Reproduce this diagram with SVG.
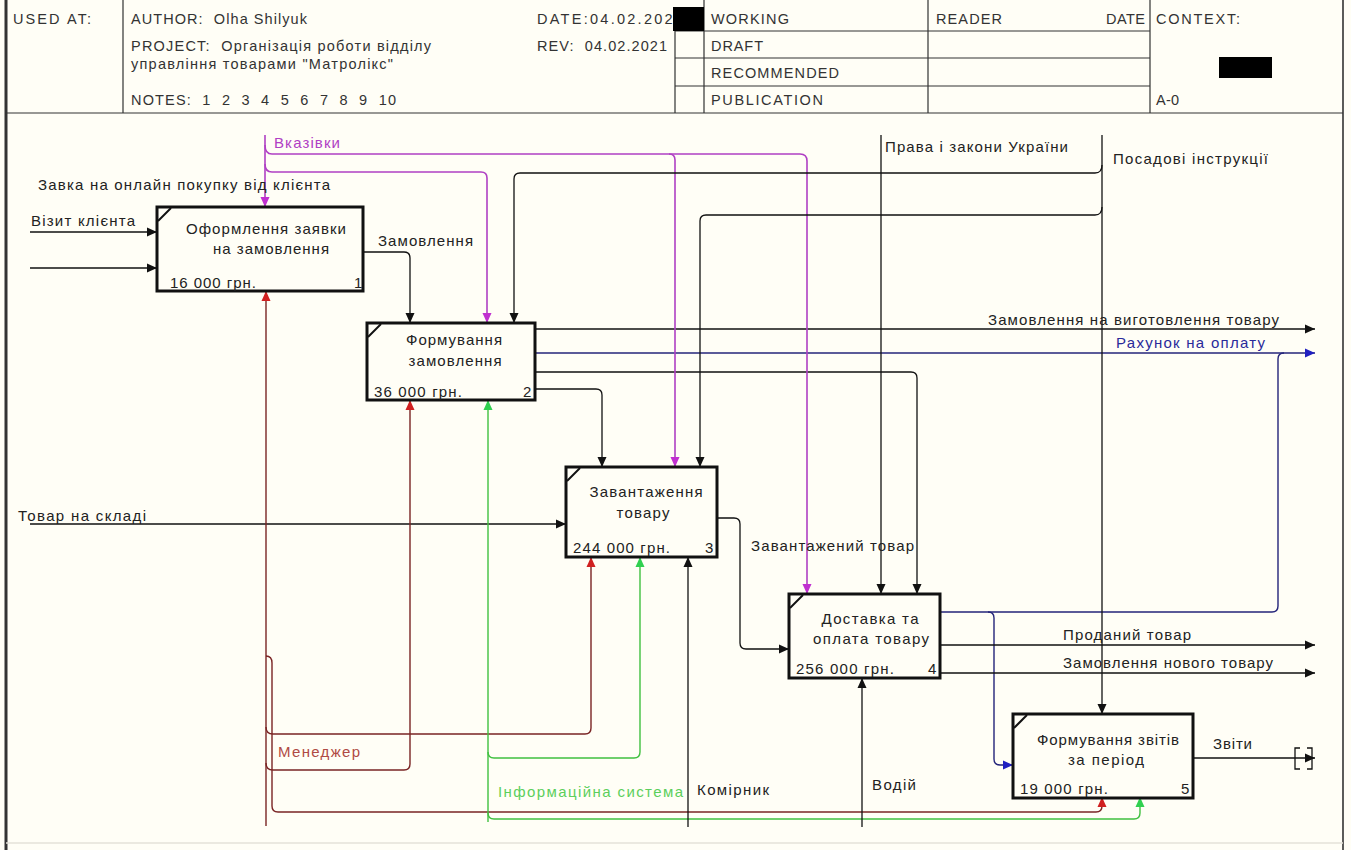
<svg xmlns="http://www.w3.org/2000/svg" width="1351" height="850" viewBox="0 0 1351 850">
<defs>
<style>
text{font-family:"Liberation Sans",Arial,sans-serif;font-size:15px;fill:#222}
.hd text{font-size:14.5px;fill:#333;white-space:pre}
.hl{stroke:#333;stroke-width:1.2;fill:none}
.bx{fill:#fffef6;stroke:#111;stroke-width:3}
.cn{stroke:#111;fill:none}
.k{stroke:#111;fill:none;stroke-width:1.3}
.m{stroke:#b040c4;fill:none;stroke-width:1.6}
.r{stroke:#7a2424;fill:none;stroke-width:1.4}
.g{stroke:#40c040;fill:none;stroke-width:1.4}
.b{stroke:#24247a;fill:none;stroke-width:1.4}
.ak{marker-end:url(#ak)}
.am{marker-end:url(#am)}
.ar{marker-end:url(#ar)}
.ag{marker-end:url(#ag)}
.ab{marker-end:url(#ab)}
.tm{fill:#b040c4}
.tr{fill:#b04a44}
.tg{fill:#5ccf5c}
.tb{fill:#2a2a9a}
</style>
<marker id="ak" viewBox="0 0 10 10" refX="10" refY="5" markerWidth="10" markerHeight="10" markerUnits="userSpaceOnUse" orient="auto"><path d="M0,0.5 L10,5 L0,9.5 z" fill="#111"/></marker>
<marker id="am" viewBox="0 0 10 10" refX="10" refY="5" markerWidth="10" markerHeight="10" markerUnits="userSpaceOnUse" orient="auto"><path d="M0,0.5 L10,5 L0,9.5 z" fill="#c030d0"/></marker>
<marker id="ar" viewBox="0 0 10 10" refX="10" refY="5" markerWidth="10" markerHeight="10" markerUnits="userSpaceOnUse" orient="auto"><path d="M0,0.5 L10,5 L0,9.5 z" fill="#d02020"/></marker>
<marker id="ag" viewBox="0 0 10 10" refX="10" refY="5" markerWidth="10" markerHeight="10" markerUnits="userSpaceOnUse" orient="auto"><path d="M0,0.5 L10,5 L0,9.5 z" fill="#30d050"/></marker>
<marker id="ab" viewBox="0 0 10 10" refX="10" refY="5" markerWidth="10" markerHeight="10" markerUnits="userSpaceOnUse" orient="auto"><path d="M0,0.5 L10,5 L0,9.5 z" fill="#2020c0"/></marker>
</defs>
<rect x="0" y="0" width="1351" height="850" fill="#fffef6"/>

<g id="header" class="hd">
<path class="hl" d="M6,113 H1343 M123,0 V113 M675,31 V113 M704,0 V113 M928,0 V113 M1150,0 V113 M675,31 H1150 M675,58 H1150 M675,86 H1150"/>
<text x="13" y="24" textLength="78">USED AT:</text>
<text x="131" y="24" textLength="176">AUTHOR:  Olha Shilyuk</text>
<text x="131" y="51" textLength="300">PROJECT:  Організація роботи відділу</text>
<text x="131" y="69" textLength="262">управління товарами "Матролікс"</text>
<text x="131" y="105" textLength="265">NOTES:  1  2  3  4  5  6  7  8  9  10</text>
<text x="537" y="24" textLength="146">DATE:04.02.2021</text>
<text x="537" y="51" textLength="130">REV:  04.02.2021</text>
<rect x="673" y="7" width="31" height="24" fill="#000"/>
<text x="711" y="24" textLength="78">WORKING</text>
<text x="711" y="51" textLength="52">DRAFT</text>
<text x="711" y="78" textLength="128">RECOMMENDED</text>
<text x="711" y="105" textLength="112">PUBLICATION</text>
<text x="936" y="24" textLength="66">READER</text>
<text x="1106" y="24" textLength="39">DATE</text>
<text x="1156" y="24" textLength="84">CONTEXT:</text>
<rect x="1219" y="57" width="53" height="21" fill="#000"/>
<text x="1156" y="105" textLength="23">A-0</text>
</g>

<g id="frame">
<path d="M6,0 V850" stroke="#333" stroke-width="3"/>
<path d="M1343,0 V850" stroke="#333" stroke-width="1.6"/>
<path d="M6,843 H1343" stroke="#e4e2d8" stroke-width="1.5"/>
</g>

<g id="connectors">
<path class="k ak" d="M30,232 H157"/>
<path class="k ak" d="M30,268 H157"/>
<path class="k ak" d="M30,524 H566"/>
<path class="k ak" d="M363,252 H404 Q410,252 410,258 V323"/>
<path class="k ak" d="M535,329 H1315"/>
<path class="b ab" d="M535,353 H1315"/>
<path class="k ak" d="M535,372 H911 Q917,372 917,378 V594"/>
<path class="k ak" d="M535,389 H596 Q602,389 602,395 V467"/>
<path class="k ak" d="M717,518 H734 Q740,518 740,524 V643 Q740,649 746,649 H789"/>
<path class="b" d="M940,612 H1272 Q1278,612 1278,606 V359 Q1278,353 1284,353"/>
<path class="b ab" d="M988,612 Q994,612 994,618 V759 Q994,765 1000,765 H1013"/>
<path class="k ak" d="M940,645 H1315"/>
<path class="k ak" d="M940,673 H1315"/>
<path class="k ak" d="M1193,758 H1315"/>
<path class="k" d="M1300,748 H1295 V769 H1300 M1307,748 H1312 V769 H1307"/>
<path class="m am" d="M265,135 V207"/>
<path class="m am" d="M265,145 Q265,154 272,154 H800 Q807,154 807,161 V594"/>
<path class="m am" d="M669,154 Q675,154 675,160 V467"/>
<path class="m am" d="M265,164 Q265,172 272,172 H481 Q487,172 487,178 V323"/>
<path class="k ak" d="M881,135 V594"/>
<path class="k ak" d="M1102,135 V714"/>
<path class="k ak" d="M1102,165 Q1102,173 1095,173 H520 Q514,173 514,179 V323"/>
<path class="k ak" d="M1102,207 Q1102,215 1095,215 H706 Q700,215 700,221 V467"/>
<path class="r ar" d="M266,826 V291"/>
<path class="r ar" d="M266,727 Q266,734 273,734 H585 Q591,734 591,728 V557"/>
<path class="r ar" d="M266,763 Q266,770 273,770 H404 Q410,770 410,764 V400"/>
<path class="r ar" d="M266,656 Q272,656 272,663 V806 Q272,812 278,812 H1096 Q1102,812 1102,806 V797"/>
<path class="g ag" d="M488,822 V400"/>
<path class="g ag" d="M488,752 Q488,758 494,758 H634 Q640,758 640,752 V557"/>
<path class="g ag" d="M488,813 Q488,819 494,819 H1134 Q1140,819 1140,813 V797"/>
<path class="k ak" d="M688,827 V557"/>
<path class="k ak" d="M862,827 V678"/>
</g>

<g id="labels">
<text class="tm" x="274" y="148" textLength="66">Вказівки</text>
<text x="38" y="190" textLength="292">Завка на онлайн покупку від клієнта</text>
<text x="31" y="226" textLength="104">Візит клієнта</text>
<text x="378" y="246" textLength="95">Замовлення</text>
<text x="885" y="152" textLength="183">Права і закони України</text>
<text x="1113" y="164" textLength="155">Посадові інструкції</text>
<text x="988" y="325" textLength="291">Замовлення на виготовлення товару</text>
<text class="tb" x="1116" y="348" textLength="149">Рахунок на оплату</text>
<text x="18" y="521" textLength="128">Товар на складі</text>
<text x="751" y="551" textLength="163">Завантажений товар</text>
<text x="1063" y="640" textLength="128">Проданий товар</text>
<text x="1063" y="668" textLength="210">Замовлення нового товару</text>
<text x="1213" y="749" textLength="39">Звіти</text>
<text class="tr" x="278" y="757" textLength="82">Менеджер</text>
<text class="tg" x="498" y="797" textLength="185">Інформаційна система</text>
<text x="697" y="795" textLength="72">Комірник</text>
<text x="872" y="790" textLength="44">Водій</text>
</g>

<g id="node1">
<rect class="bx" x="157" y="207" width="206" height="84"/>
<path class="cn" d="M158,221 L171,208" stroke-width="2"/>
<text x="266" y="234" text-anchor="middle" textLength="160">Оформлення заявки</text>
<text x="271" y="254" text-anchor="middle" textLength="116">на замовлення</text>
<text x="170" y="288" textLength="86">16 000 грн.</text>
<text x="354" y="288">1</text>
</g>
<g id="node2">
<rect class="bx" x="367" y="323" width="168" height="77"/>
<path class="cn" d="M368,337 L381,324" stroke-width="2"/>
<text x="454" y="345" text-anchor="middle" textLength="96">Формування</text>
<text x="455" y="366" text-anchor="middle" textLength="93">замовлення</text>
<text x="374" y="397" textLength="88">36 000 грн.</text>
<text x="523" y="397">2</text>
</g>
<g id="node3">
<rect class="bx" x="566" y="467" width="151" height="90"/>
<path class="cn" d="M567,481 L580,468" stroke-width="2"/>
<text x="646" y="497" text-anchor="middle" textLength="113">Завантаження</text>
<text x="643" y="518" text-anchor="middle" textLength="53">товару</text>
<text x="573" y="553" textLength="97">244 000 грн.</text>
<text x="705" y="553">3</text>
</g>
<g id="node4">
<rect class="bx" x="789" y="594" width="151" height="84"/>
<path class="cn" d="M790,608 L803,595" stroke-width="2"/>
<text x="870" y="624" text-anchor="middle" textLength="97">Доставка та</text>
<text x="871" y="644" text-anchor="middle" textLength="116">оплата товару</text>
<text x="796" y="674" textLength="98">256 000 грн.</text>
<text x="928" y="674">4</text>
</g>
<g id="node5">
<rect class="bx" x="1013" y="714" width="180" height="84"/>
<path class="cn" d="M1014,728 L1027,715" stroke-width="2"/>
<text x="1108" y="745" text-anchor="middle" textLength="142">Формування звітів</text>
<text x="1106" y="765" text-anchor="middle" textLength="76">за період</text>
<text x="1020" y="794" textLength="88">19 000 грн.</text>
<text x="1181" y="794">5</text>
</g>
</svg>
